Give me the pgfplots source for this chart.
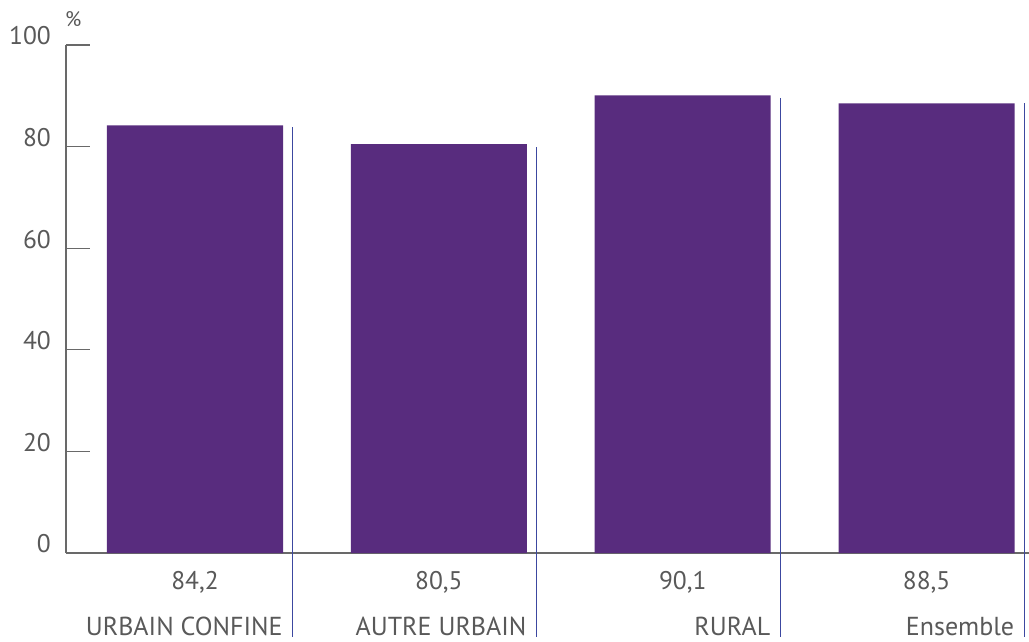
\documentclass[border=0pt]{standalone}
\usepackage{pgfplots}
\pgfplotsset{compat=1.18}
\usepackage{fontspec}
\setmainfont{PT Sans}
\definecolor{barc}{RGB}{88,44,126}
\definecolor{txt}{RGB}{89,89,89}
\definecolor{axc}{RGB}{105,105,105}
\definecolor{vl}{RGB}{60,72,160}
\begin{document}
\begin{tikzpicture}
\begin{axis}[
  at={(0pt,0pt)}, anchor=south west,
  scale only axis, width=963pt, height=508pt,
  xmin=-0.529, xmax=3.42, ymin=0, ymax=100,
  clip=false,
  axis x line=bottom, axis y line=left,
  axis line style={axc, line width=1.2pt, -},
  ytick={0,20,40,60,80,100},
  tick align=inside, major tick length=24pt,
  y tick style={axc, line width=1.2pt},
  xtick={0,1,2,3},
  xticklabels={{84,2},{80,5},{90,1},{88,5}},
  x tick style={draw=none},
  ticklabel style={font=\fontsize{25.5}{30}\selectfont, text=txt, inner sep=0pt},
  yticklabel style={anchor=east, xshift=-15pt, yshift=9pt},
  xticklabel style={anchor=north, yshift=-18pt},
  /pgf/number format/assume math mode=true,
]
\addplot[ybar, bar width=176pt, fill=barc, draw=none] coordinates {(0,84.2) (1,80.5) (2,90.1) (3,88.5)};
\addplot[vl, line width=1pt] coordinates {(0.4,83.8) (0.4,-16.6)};
\addplot[vl, line width=1pt] coordinates {(1.4,79.9) (1.4,-16.6)};
\addplot[vl, line width=1pt] coordinates {(2.4,89.6) (2.4,-16.6)};
\addplot[vl, line width=1pt] coordinates {(3.4,88.5) (3.4,-16.6)};
\node[anchor=base east, inner sep=0pt, text=txt, font=\fontsize{26}{30}\selectfont, yshift=-82pt] at (axis cs:0.36,0) {URBAIN CONFINE};
\node[anchor=base east, inner sep=0pt, text=txt, font=\fontsize{26}{30}\selectfont, yshift=-82pt] at (axis cs:1.36,0) {AUTRE URBAIN};
\node[anchor=base east, inner sep=0pt, text=txt, font=\fontsize{26}{30}\selectfont, yshift=-82pt] at (axis cs:2.36,0) {RURAL};
\node[anchor=base east, inner sep=0pt, text=txt, font=\fontsize{26}{30}\selectfont, yshift=-82pt] at (axis cs:3.36,0) {Ensemble};
\node[anchor=base west, inner sep=0pt, text=txt, font=\fontsize{21}{24}\selectfont, xshift=-1pt, yshift=18pt] at (axis cs:-0.529,100) {\%};
\end{axis}
\pgfresetboundingbox
\path[use as bounding box] (-66pt,-88pt) rectangle (963pt,553pt);
\end{tikzpicture}
\end{document}
